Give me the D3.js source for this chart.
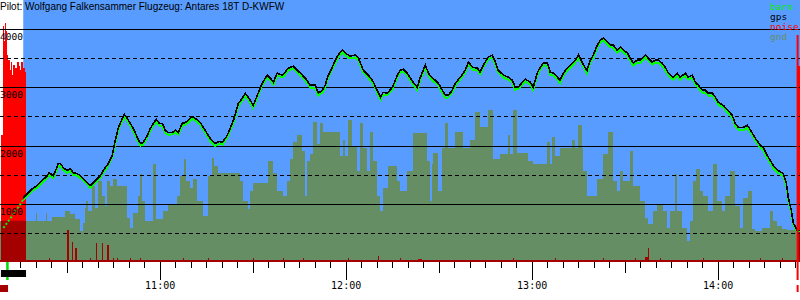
<!DOCTYPE html>
<html>
<head>
<meta charset="utf-8">
<script src="https://cdn.jsdelivr.net/npm/d3@7"></script>
<style>
  body { margin: 0; background: #fff; }
  svg { display: block; }
  .mono { font-family: "DejaVu Sans Mono", monospace; }
</style>
</head>
<body>
<div id="chart"></div>
<script>
// all times are minutes after 10:00
const title = "Pilot: Wolfgang Falkensammer Flugzeug: Antares 18T D-KWFW";
const timeDomain = [8.5, 266.57];
const altLabels = [1000, 2000, 3000, 4000];
const gridValues = [500, 1000, 1500, 2000, 2500, 3000, 3500, 4000];
const legendNames = ["baro", "gps", "noise", "gnd"];
const legendColors = ["#00ee00", "#000000", "#ff0000", "#658e64"];

const takeoffTime = 10.9;
const startTime = 16.0;
const landingTime = 265.8;
const engineRun = [8.8, 16.9];
const releaseMark = [8.5, 11.1];

const fixTimes = [9.6, 11.8, 14.1, 16.0, 17.3, 18.9, 20.5, 22.1, 23.8, 24.4,
  25.7, 26.7, 27.3, 28.0, 28.9, 30.2, 31.2, 32.1, 33.4, 34.4,
  35.4, 36.7, 37.6, 38.6, 39.9, 40.9, 41.8, 43.4, 44.7, 45.7,
  46.7, 48.0, 48.6, 49.6, 50.5, 51.5, 52.8, 53.8, 54.7, 56.0,
  57.0, 58.0, 58.9, 59.9, 60.9, 61.8, 62.8, 64.1, 65.1, 66.0,
  67.3, 68.3, 69.2, 70.5, 71.5, 73.1, 74.7, 76.3, 77.9, 79.2,
  80.2, 81.8, 83.8, 85.4, 86.7, 87.6, 88.6, 90.2, 91.5, 93.1,
  94.7, 95.7, 96.7, 97.9, 99.6, 100.5, 101.5, 103.1, 104.4, 105.4,
  107.0, 108.6, 110.2, 111.2, 112.5, 113.4, 114.4, 115.7, 116.7, 117.6,
  118.9, 119.9, 121.5, 123.1, 124.1, 125.7, 127.3, 128.6, 130.2, 131.2,
  132.1, 133.4, 135.1, 136.7, 137.6, 138.6, 139.9, 140.9, 141.8, 143.1,
  144.1, 145.7, 146.7, 148.0, 148.9, 149.9, 151.2, 152.2, 153.1, 154.4,
  155.4, 157.0, 158.6, 159.6, 160.9, 162.5, 163.4, 164.4, 166.0, 167.3,
  168.3, 169.2, 170.9, 172.5, 173.8, 174.7, 175.7, 177.0, 177.9, 179.6,
  180.5, 181.8, 182.8, 183.8, 185.1, 186.0, 187.0, 188.3, 189.2, 190.2,
  191.5, 193.1, 194.1, 195.1, 196.3, 197.3, 197.9, 198.9, 199.9, 201.2,
  202.2, 203.1, 204.4, 205.4, 206.3, 207.6, 208.6, 209.6, 210.9, 211.8,
  212.8, 214.1, 215.1, 216.7, 217.6, 218.9, 219.9, 220.9, 222.1, 223.1,
  224.1, 225.7, 227.0, 227.9, 229.6, 230.5, 231.8, 232.8, 233.8, 235.1,
  236.0, 237.0, 238.3, 239.3, 240.2, 241.8, 243.4, 244.7, 245.7, 246.7,
  248.3, 249.6, 250.5, 252.2, 253.8, 254.7, 256.0, 257.0, 258.0, 259.6,
  261.2, 262.2, 262.8, 263.8, 264.4, 265.4, 265.7, 266.6];

const gpsAlt = [586, 759, 931, 1103, 1172, 1259, 1310, 1397, 1483, 1534,
  1483, 1603, 1690, 1690, 1621, 1569, 1603, 1534, 1517, 1483,
  1431, 1362, 1310, 1362, 1431, 1483, 1569, 1690, 1828, 2086,
  2310, 2466, 2534, 2466, 2379, 2293, 2138, 2034, 2052, 2172,
  2293, 2379, 2448, 2379, 2379, 2259, 2224, 2224, 2259, 2224,
  2379, 2397, 2431, 2500, 2466, 2397, 2259, 2121, 2034, 2069,
  2052, 2172, 2431, 2724, 2810, 2897, 2828, 2690, 2862, 3069,
  3207, 3155, 3086, 3241, 3207, 3259, 3328, 3362, 3293, 3241,
  3155, 3034, 3034, 2897, 2948, 3034, 3207, 3345, 3466, 3552,
  3638, 3586, 3534, 3552, 3500, 3293, 3207, 3121, 2948, 2828,
  2914, 2897, 3000, 3207, 3293, 3310, 3241, 3155, 3086, 3000,
  3172, 3379, 3241, 3155, 3121, 3069, 2948, 2862, 2862, 2948,
  3069, 3172, 3293, 3431, 3345, 3328, 3259, 3379, 3517, 3552,
  3431, 3293, 3207, 3172, 3121, 3000, 3000, 3086, 3138, 3086,
  3000, 3241, 3345, 3414, 3414, 3259, 3241, 3172, 3121, 3241,
  3328, 3414, 3466, 3552, 3431, 3328, 3293, 3466, 3552, 3724,
  3810, 3845, 3776, 3724, 3724, 3638, 3690, 3638, 3586, 3500,
  3414, 3466, 3466, 3552, 3500, 3431, 3466, 3466, 3414, 3345,
  3241, 3172, 3241, 3172, 3241, 3172, 3207, 3086, 3034, 2948,
  2948, 2897, 2897, 2828, 2741, 2690, 2603, 2517, 2379, 2310,
  2310, 2345, 2276, 2121, 2000, 1966, 1828, 1741, 1655, 1569,
  1517, 1345, 1103, 879, 672, 569, 540, 540];

const baroAlt = [586, 745, 915, 1070, 1135, 1220, 1275, 1360, 1445, 1490,
  1440, 1565, 1650, 1655, 1580, 1530, 1565, 1495, 1480, 1445,
  1395, 1325, 1270, 1320, 1390, 1445, 1530, 1650, 1790, 2040,
  2270, 2430, 2495, 2425, 2340, 2250, 2095, 1995, 2015, 2135,
  2255, 2340, 2410, 2340, 2335, 2215, 2185, 2190, 2220, 2185,
  2340, 2360, 2390, 2460, 2430, 2355, 2220, 2080, 1990, 2030,
  2015, 2135, 2390, 2685, 2770, 2860, 2785, 2650, 2825, 3030,
  3170, 3115, 3045, 3200, 3170, 3220, 3290, 3325, 3255, 3200,
  3115, 2995, 2990, 2855, 2910, 2995, 3165, 3305, 3425, 3515,
  3600, 3545, 3495, 3510, 3460, 3255, 3165, 3080, 2905, 2785,
  2875, 2860, 2960, 3170, 3250, 3270, 3200, 3115, 3045, 2955,
  3130, 3340, 3200, 3115, 3080, 3030, 2905, 2820, 2825, 2910,
  3030, 3135, 3255, 3390, 3305, 3290, 3220, 3340, 3480, 3515,
  3390, 3250, 3165, 3130, 3080, 2960, 2965, 3045, 3100, 3045,
  2955, 3200, 3305, 3375, 3370, 3215, 3200, 3130, 3075, 3200,
  3290, 3375, 3425, 3515, 3390, 3285, 3240, 3425, 3510, 3685,
  3770, 3805, 3735, 3685, 3680, 3595, 3650, 3595, 3545, 3455,
  3370, 3425, 3420, 3510, 3455, 3390, 3425, 3420, 3370, 3300,
  3195, 3130, 3200, 3130, 3200, 3130, 3165, 3045, 2990, 2905,
  2905, 2855, 2860, 2785, 2700, 2650, 2560, 2475, 2335, 2270,
  2265, 2300, 2235, 2080, 1960, 1920, 1785, 1700, 1610, 1525,
  1470, 1300, 1060, 840, 640, 545, 530, 530];

const groundTimes = [8.5, 20.2, 20.5, 23.4, 23.8, 25.4, 29.6, 31.2, 32.8, 34.4,
  35.4, 36.0, 36.3, 37.0, 38.3, 39.2, 40.2, 41.5, 42.5, 43.1,
  44.1, 45.1, 46.3, 49.6, 50.5, 51.5, 53.1, 53.8, 54.4, 55.4,
  58.0, 58.9, 61.2, 62.8, 65.7, 66.7, 68.0, 68.6, 69.9, 70.9,
  72.2, 74.1, 75.7, 77.0, 77.6, 78.9, 86.0, 87.0, 88.6, 89.2,
  90.2, 95.1, 96.7, 98.0, 99.9, 101.2, 102.2, 103.1, 104.4, 106.0,
  107.0, 107.6, 108.6, 109.6, 110.9, 111.8, 112.8, 118.3, 119.3, 119.9,
  120.9, 122.2, 123.8, 124.7, 125.7, 127.0, 128.0, 128.9, 130.2, 131.2,
  132.2, 133.8, 136.7, 137.6, 139.9, 141.8, 146.3, 147.3, 148.0, 148.3,
  149.9, 151.2, 152.2, 153.1, 155.4, 158.0, 160.2, 161.8, 163.4, 166.0,
  167.6, 169.9, 172.5, 173.1, 174.1, 175.4, 178.9, 180.5, 185.1, 186.0,
  186.7, 187.6, 189.2, 193.1, 194.1, 195.1, 196.3, 196.7, 198.0, 201.2,
  203.1, 204.7, 206.3, 207.6, 208.6, 209.6, 211.8, 212.8, 215.1, 216.7,
  217.6, 219.2, 220.5, 222.5, 223.8, 224.7, 226.3, 227.0, 228.6, 230.2,
  231.2, 232.2, 233.1, 234.4, 235.4, 237.0, 238.6, 239.9, 241.5, 242.5,
  244.1, 245.7, 247.3, 248.3, 249.9, 251.2, 252.2, 254.4, 257.0, 258.0,
  259.3, 260.9, 262.5];

const groundAlt = [707, 845, 707, 845, 707, 776, 879, 828, 741, 534,
  672, 931, 1052, 879, 1310, 931, 1396, 1138, 965, 1396,
  1310, 1431, 1310, 759, 586, 845, 1138, 1517, 1052, 707,
  1690, 741, 879, 1000, 1138, 1483, 1776, 1396, 1276, 1431,
  1052, 793, 1483, 1793, 1655, 1534, 1396, 1052, 914, 1224,
  1362, 1741, 1534, 1224, 1138, 1396, 1776, 2052, 2172, 1914,
  1138, 1741, 1862, 2396, 2034, 2379, 2224, 1827, 2086, 1827,
  2431, 2000, 1569, 2379, 1965, 1569, 2224, 1741, 1138, 879,
  1276, 1655, 1396, 1224, 1569, 2207, 1741, 1052, 1690, 1879,
  1224, 1965, 2379, 1965, 2224, 1965, 2086, 2569, 2310, 2603,
  1776, 1862, 2172, 1862, 2603, 1879, 1741, 1690, 2052, 1690,
  2138, 1827, 1965, 2086, 1965, 2345, 1965, 1569, 1138, 1431,
  1862, 2224, 1396, 1224, 1569, 1396, 1914, 1310, 1052, 759,
  655, 879, 1000, 879, 586, 879, 1517, 879, 586, 362,
  707, 1396, 1603, 1224, 1138, 879, 1690, 1052, 879, 1138,
  1569, 965, 586, 1103, 1224, 569, 534, 586, 879, 707,
  620, 569, 552];

const noiseTimes = [8.5, 8.8, 9.5, 9.8, 10.1, 10.4, 10.8, 11.1, 11.7, 12.0,
  12.4, 12.7, 13.3, 14.0, 14.6, 14.9, 15.3, 15.9, 16.6, 16.9,
  24.3, 24.7, 30.1, 30.8, 31.7, 32.0, 32.7, 33.3, 37.5, 37.9,
  39.5, 39.9, 41.4, 41.7, 43.0, 43.7, 45.0, 45.4, 46.2, 46.6,
  50.4, 50.8, 53.7, 54.1, 67.5, 67.9, 75.6, 76.0, 90.1, 90.5,
  99.8, 100.2, 106.2, 106.6, 120.8, 121.2, 130.4, 130.8, 137.5, 137.9,
  143.3, 144.7, 174.0, 174.4, 187.5, 187.9, 203.0, 203.4, 213.3, 213.7,
  216.6, 217.4, 217.9, 221.4, 221.8, 235.3, 235.7, 253.7, 254.1, 260.8,
  261.2, 265.5];

const noiseLevel = [8, 485, 901, 844, 912, 882, 790, 771, 733, 763,
  714, 752, 740, 763, 748, 733, 763, 740, 725, 8,
  15, 8, 122, 8, 76, 8, 53, 8, 15, 8,
  72, 8, 72, 8, 65, 8, 15, 8, 15, 8,
  15, 8, 15, 8, 15, 8, 15, 8, 15, 8,
  15, 8, 15, 8, 15, 8, 24, 8, 15, 8,
  12, 8, 15, 8, 15, 8, 15, 8, 15, 8,
  20, 53, 8, 15, 8, 15, 8, 15, 8, 15,
  8, 748];

const W = 800, H = 300;
const plotBottom = 262;

const base = new Date(2000, 0, 1, 10, 0, 0);
const toDate = m => new Date(base.getTime() + m * 60000);

const svg = d3.select("#chart").append("svg")
    .attr("width", W)
    .attr("height", H);

const x = d3.scaleTime().domain(timeDomain.map(toDate)).range([0, W]);
const y = d3.scaleLinear().domain([0, 4000]).range([plotBottom, 29]);
const yNoise = d3.scaleLinear().domain([0, 1000]).range([plotBottom, 0]);

// background after task start
svg.append("rect")
    .attr("x", x(toDate(startTime)))
    .attr("y", 0)
    .attr("width", W - x(toDate(startTime)))
    .attr("height", plotBottom)
    .attr("fill", "#589cff");

// step data
const groundData = groundTimes.map((t, i) => [t, groundAlt[i]]);
groundData.push([timeDomain[1], groundAlt[groundAlt.length - 1]]);
const noiseData = noiseTimes.map((t, i) => [t, noiseLevel[i]]);
noiseData.push([timeDomain[1], noiseLevel[noiseLevel.length - 1]]);

const groundArea = d3.area()
    .x(d => x(toDate(d[0])))
    .y0(plotBottom)
    .y1(d => y(d[1]))
    .curve(d3.curveStepAfter);

const noiseArea = d3.area()
    .x(d => x(toDate(d[0])))
    .y0(plotBottom)
    .y1(d => yNoise(d[1]))
    .curve(d3.curveStepAfter);

const defs = svg.append("defs");
defs.append("clipPath").attr("id", "gndClip")
    .append("path").attr("d", groundArea(groundData));
defs.append("clipPath").attr("id", "preClip")
    .append("rect")
    .attr("x", 0).attr("y", 0)
    .attr("width", x(toDate(startTime))).attr("height", plotBottom);
defs.append("clipPath").attr("id", "postClip")
    .append("rect")
    .attr("x", x(toDate(startTime))).attr("y", 0)
    .attr("width", W).attr("height", plotBottom);

// noise above ground
svg.append("path")
    .attr("d", noiseArea(noiseData))
    .attr("fill", "#ff0000")
    .attr("shape-rendering", "crispEdges");

// ground
svg.append("path")
    .attr("d", groundArea(groundData))
    .attr("fill", "#658e64")
    .attr("shape-rendering", "crispEdges");

// noise inside ground
svg.append("path")
    .attr("d", noiseArea(noiseData))
    .attr("fill", "#a50000")
    .attr("clip-path", "url(#gndClip)")
    .attr("shape-rendering", "crispEdges");

// grid
svg.append("g").selectAll("line")
    .data(gridValues)
    .join("line")
    .attr("x1", 0)
    .attr("x2", W)
    .attr("y1", d => Math.round(y(d)) + 0.5)
    .attr("y2", d => Math.round(y(d)) + 0.5)
    .attr("stroke", "#000")
    .attr("stroke-width", 1)
    .attr("stroke-dasharray", d => d % 1000 === 0 ? null : "4,3")
    .attr("shape-rendering", "crispEdges");

// barogram
const fixes = fixTimes.map((t, i) => ({ t: t, gps: gpsAlt[i], baro: baroAlt[i] }));
const baroLine = d3.line().x(d => x(toDate(d.t))).y(d => y(d.baro));
const gpsLine = d3.line().x(d => x(toDate(d.t))).y(d => y(d.gps));

svg.append("path")
    .datum(fixes)
    .attr("d", baroLine)
    .attr("fill", "none")
    .attr("stroke", "#00ff00")
    .attr("stroke-width", 2)
    .attr("stroke-dasharray", "2,2")
    .attr("clip-path", "url(#preClip)");

svg.append("path")
    .datum(fixes)
    .attr("d", baroLine)
    .attr("fill", "none")
    .attr("stroke", "#00ff00")
    .attr("stroke-width", 2)
    .attr("shape-rendering", "crispEdges")
    .attr("clip-path", "url(#postClip)");

svg.append("path")
    .datum(fixes)
    .attr("d", gpsLine)
    .attr("fill", "none")
    .attr("stroke", "#000")
    .attr("stroke-width", 1.6)
    .attr("shape-rendering", "crispEdges")
    .attr("clip-path", "url(#postClip)");

// altitude labels
svg.append("g").selectAll("text")
    .data(altLabels)
    .join("text")
    .attr("class", "mono")
    .attr("x", 0)
    .attr("y", d => Math.round(y(d)) + 11)
    .attr("font-size", "9.5px")
    .attr("fill", "#000")
    .text(d => d);

// title
svg.append("text")
    .attr("x", 0)
    .attr("y", 10)
    .attr("font-family", "'Liberation Sans', Arial, sans-serif")
    .attr("font-size", "10px")
    .attr("fill", "#000")
    .text(title);

// legend
svg.append("g").selectAll("text")
    .data(legendNames)
    .join("text")
    .attr("class", "mono")
    .attr("x", 770)
    .attr("y", (d, i) => 10 + i * 10)
    .attr("font-size", "9.5px")
    .attr("fill", (d, i) => legendColors[i])
    .text(d => d);

// time axis
const minorTicks = x.ticks(d3.timeMinute.every(5)).filter(d => d >= toDate(takeoffTime));

function styleAxis(g) {
    g.select(".domain").remove();
    g.selectAll(".tick line").attr("stroke", "#000").attr("shape-rendering", "crispEdges");
    g.selectAll(".tick text")
        .attr("class", "mono")
        .attr("font-size", "10px")
        .attr("fill", "#000");
}

svg.append("g")
    .attr("transform", `translate(0,${plotBottom})`)
    .call(d3.axisBottom(x).tickValues(minorTicks).tickSize(6).tickFormat(""))
    .call(styleAxis);

svg.append("g")
    .attr("transform", `translate(0,${plotBottom})`)
    .call(d3.axisBottom(x).ticks(d3.timeMinute.every(30)).tickSize(11).tickFormat(""))
    .call(styleAxis);

svg.append("g")
    .attr("transform", `translate(0,${plotBottom})`)
    .call(d3.axisBottom(x).ticks(d3.timeHour.every(1)).tickSize(18).tickPadding(2)
        .tickFormat(d3.timeFormat("%H:%M")))
    .call(styleAxis);

// flight markers
svg.append("line")
    .attr("x1", x(toDate(takeoffTime)))
    .attr("x2", x(toDate(takeoffTime)))
    .attr("y1", plotBottom)
    .attr("y2", 280)
    .attr("stroke", "#00dd00")
    .attr("stroke-width", 2.5);

svg.append("rect")
    .attr("x", x(toDate(engineRun[0])))
    .attr("y", 270)
    .attr("width", x(toDate(engineRun[1])) - x(toDate(engineRun[0])))
    .attr("height", 7)
    .attr("fill", "#000");

svg.append("rect")
    .attr("x", x(toDate(releaseMark[0])))
    .attr("y", 285)
    .attr("width", x(toDate(releaseMark[1])) - x(toDate(releaseMark[0])))
    .attr("height", 7)
    .attr("fill", "#a50000");

svg.append("line")
    .attr("x1", x(toDate(landingTime)))
    .attr("x2", x(toDate(landingTime)))
    .attr("y1", 35)
    .attr("y2", 280)
    .attr("stroke", "#ff0000")
    .attr("stroke-width", 2);

svg.append("rect")
    .attr("x", x(toDate(landingTime)) - 1)
    .attr("y", 285)
    .attr("width", 2)
    .attr("height", 7)
    .attr("fill", "#ff0000");
</script>
</body>
</html>
